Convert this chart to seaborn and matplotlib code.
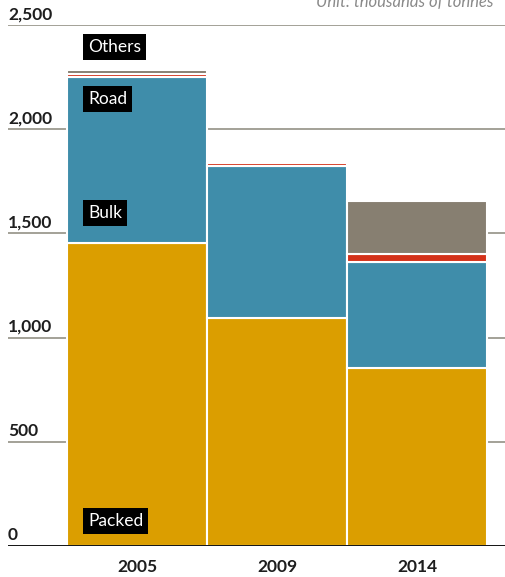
import numpy as np
import pandas as pd
import matplotlib
matplotlib.use("Agg")
import matplotlib.pyplot as plt
import seaborn as sns

# values in thousands of tonnes
years = ["2005", "2009", "2014"]
packed = [1455, 1095, 855]
bulk = [795, 730, 510]
road = [16, 12, 35]
others = [20, 0, 255]

layers = ["Packed", "Bulk", "Road", "Others"]
colors = {"Packed": "#DB9E00", "Bulk": "#3F8DAA", "Road": "#D4321A", "Others": "#877F71"}
yticks = [0, 500, 1000, 1500, 2000, 2500]
# label boxes: (text, y position in data units)
label_pos = [("Others", 2395), ("Road", 2145), ("Bulk", 1598), ("Packed", 120)]

df = pd.DataFrame({"year": years, "Packed": packed, "Bulk": bulk,
                   "Road": road, "Others": others})

sns.set_style("white")
plt.rcParams['font.family'] = ['Lato', 'DejaVu Sans']

fig = plt.figure(figsize=(5.06, 5.77), dpi=100)
ax = fig.add_axes([0.0158, 0.0537, 0.9842, 0.9030])

bottom = np.zeros(len(years))
for layer in layers:
    sns.barplot(data=df, x="year", y=layer, order=years, color=colors[layer],
                saturation=1, width=1.0, bottom=bottom, edgecolor="white",
                linewidth=1.5, ax=ax, zorder=3)
    bottom = bottom + df[layer].values

ax.set_xlim(-0.921, 2.636)
ax.set_ylim(0, 2500)
ax.set_xlabel("")
ax.set_ylabel("")
for s in ax.spines.values():
    s.set_visible(False)

# gridlines and labels above them
ax.set_yticks([])
for v in yticks:
    ax.axhline(v, color="black" if v == 0 else "#8a887a",
               lw=1.3 if v == 0 else 1.1, zorder=1 if v else 4)
    ax.text(0, v + 14, f"{v:,}", transform=ax.get_yaxis_transform(),
            ha="left", va="bottom", fontsize=12.5, fontweight="bold", color="#1e1e1e")

ax.tick_params(axis="x", length=0, pad=9, labelsize=12.5)
for t in ax.get_xticklabels():
    t.set_fontweight("bold")
    t.set_color("#1e1e1e")

for txt, y in label_pos:
    ax.text(-0.35, y, txt, ha="left", va="center", fontsize=12.5, color="white",
            zorder=6, bbox=dict(boxstyle="square,pad=0.3", fc="black", ec="none"))

fig.text(0.975, 0.997, "Unit: thousands of tonnes", ha="right", va="center",
         fontsize=12, style="italic", color="#8a8a8a")

fig.savefig("out.png", dpi=100)
